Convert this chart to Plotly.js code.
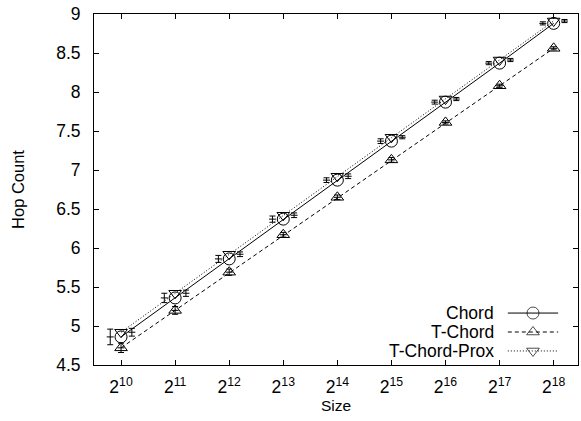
<!DOCTYPE html>
<html>
<head>
<meta charset="utf-8">
<script src="https://cdn.plot.ly/plotly-3.0.1.min.js"></script>
<style>html,body{margin:0;padding:0;background:#fff;}#chart{width:581px;height:421px;}</style>
</head>
<body>
<div id="chart"></div>
<script>
// ---- data ----
var exponents = [10, 11, 12, 13, 14, 15, 16, 17, 18];
var sizes = [1024, 2048, 4096, 8192, 16384, 32768, 65536, 131072, 262144];
var tickLabels = ["2<sup>10</sup>", "2<sup>11</sup>", "2<sup>12</sup>", "2<sup>13</sup>", "2<sup>14</sup>", "2<sup>15</sup>", "2<sup>16</sup>", "2<sup>17</sup>", "2<sup>18</sup>"];
var seriesNames = ["Chord", "T-Chord", "T-Chord-Prox"];
var chord = [4.86, 5.36, 5.86, 6.37, 6.87, 7.37, 7.87, 8.37, 8.88];
var tchord = [4.72, 5.20, 5.69, 6.17, 6.65, 7.13, 7.61, 8.08, 8.56];
var prox = [4.92, 5.42, 5.92, 6.42, 6.92, 7.42, 7.91, 8.41, 8.91];
var chordErr = [0.10, 0.06, 0.045, 0.04, 0.03, 0.03, 0.025, 0.02, 0.02];
var tchordErr = [0.06, 0.05, 0.04, 0.03, 0.03, 0.03, 0.02, 0.02, 0.02];
var proxErr = [0.05, 0.04, 0.03, 0.03, 0.03, 0.02, 0.02, 0.02, 0.02];

// ---- styles ----
var FONT = "Liberation Sans, Arial, sans-serif";
var shiftL = Math.pow(2, -0.2), shiftR = Math.pow(2, 0.2);
function shifted(arr, f) { return arr.map(function (v) { return v * f; }); }

var styles = [
  {dash: "solid", symbol: "circle-open", size: 12},
  {dash: "4px,3px", symbol: "triangle-up-open", size: 11},
  {dash: "1px,2px", symbol: "triangle-down-open", size: 11}
];
var values = [chord, tchord, prox];
var errs = [chordErr, tchordErr, proxErr];
var errShift = [shiftL, 1, shiftR];

var traces = [];
for (var i = 0; i < 3; i++) {
  traces.push({
    x: sizes, y: values[i], name: seriesNames[i], type: "scatter", mode: "lines+markers",
    line: {color: "#000", width: 1, dash: styles[i].dash},
    marker: {symbol: styles[i].symbol, size: styles[i].size, color: "#000", line: {color: "#000", width: 1}},
    showlegend: false, hoverinfo: "skip"
  });
  traces.push({
    x: shifted(sizes, errShift[i]), y: values[i], type: "scatter", mode: "markers",
    marker: {symbol: "line-ew-open", size: 5, color: "#000", line: {color: "#000", width: 1}},
    error_y: {type: "data", array: errs[i], visible: true, color: "#000", thickness: 1, width: 3},
    showlegend: false, hoverinfo: "skip"
  });
}

// manual legend (gnuplot style: text left, sample right)
var legRows = [0.148, 0.094, 0.040];
var annotations = [];
for (var j = 0; j < 3; j++) {
  traces.push({
    x: [0.855, 0.907, 0.959], y: [legRows[j], legRows[j], legRows[j]],
    xaxis: "x2", yaxis: "y2", type: "scatter", mode: "lines+markers",
    line: {color: "#000", width: 1, dash: styles[j].dash},
    marker: {symbol: styles[j].symbol, size: [0, styles[j].size, 0], color: "#000", line: {color: "#000", width: 1}},
    showlegend: false, hoverinfo: "skip", cliponaxis: false
  });
  annotations.push({
    xref: "paper", yref: "paper", x: 0.831, y: legRows[j], xanchor: "right", yanchor: "middle",
    text: seriesNames[j], showarrow: false, font: {family: FONT, size: 17.5, color: "#000"}
  });
}

var layout = {
  width: 581, height: 421,
  margin: {l: 94, r: 3, t: 14, b: 56},
  paper_bgcolor: "#fff", plot_bgcolor: "#fff",
  font: {family: FONT, size: 15, color: "#000"},
  showlegend: false,
  xaxis: {
    type: "log",
    range: [9.5 * Math.log10(2), 18.45 * Math.log10(2)],
    tickvals: sizes, ticktext: tickLabels,
    ticks: "inside", ticklen: 5, tickwidth: 1, tickcolor: "#000",
    showline: true, linecolor: "#000", linewidth: 1, mirror: "ticks",
    showgrid: false, zeroline: false,
    ticklabelstandoff: 6,
    tickfont: {family: FONT, size: 17.5},
    title: {text: "Size", font: {family: FONT, size: 15.5}, standoff: 1}
  },
  yaxis: {
    range: [4.5, 9], dtick: 0.5, tick0: 4.5,
    ticks: "inside", ticklen: 5, tickwidth: 1, tickcolor: "#000",
    showline: true, linecolor: "#000", linewidth: 1, mirror: "ticks",
    showgrid: false, zeroline: false,
    ticklabelstandoff: 9,
    tickfont: {family: FONT, size: 17.5},
    title: {text: "Hop Count", font: {family: FONT, size: 16.5}, standoff: 27}
  },
  xaxis2: {overlaying: "x", range: [0, 1], visible: false, fixedrange: true},
  yaxis2: {overlaying: "y", range: [0, 1], visible: false, fixedrange: true},
  annotations: annotations
};

Plotly.newPlot("chart", traces, layout, {displayModeBar: false, staticPlot: true});
</script>
</body>
</html>
